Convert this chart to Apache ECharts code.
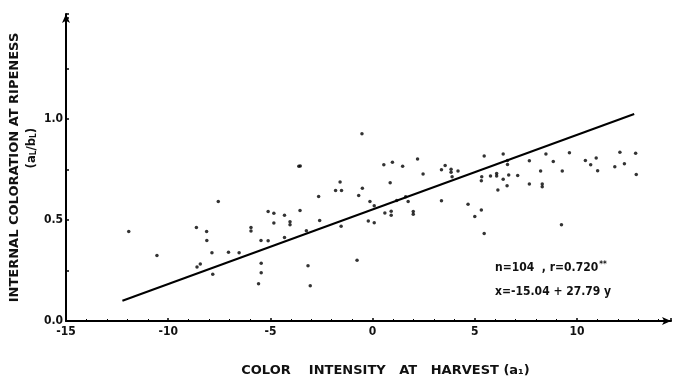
<!DOCTYPE html>
<html>
<head>
<meta charset="utf-8">
<script src="https://cdn.jsdelivr.net/npm/echarts@6/dist/echarts.min.js"></script>
<style>
html,body{margin:0;padding:0;background:#fff;}
#c{width:673px;height:382px;}
</style>
</head>
<body>
<div id="c"></div>
<script>
// Color intensity at harvest (a1)
const xVals = [-11.93,-10.55,-8.62,-8.12,-8.11,-7.86,-8.59,-8.43,-7.82,-7.55,
  -7.05,-6.53,-5.95,-5.95,-5.46,-5.45,-5.45,-5.58,-3.61,-3.54,
  -5.11,-5.11,-4.83,-4.83,-4.31,-4.04,-4.04,-4.31,-3.55,-3.24,
  -3.16,-3.05,-0.52,0.55,0.97,1.47,2.20,2.47,3.37,3.37,
  -1.59,-1.81,-1.52,-2.64,-0.50,-0.68,-0.13,0.08,-2.59,-1.54,
  -0.21,0.08,0.60,0.91,0.91,1.18,1.62,1.74,1.99,1.99,
  0.86,-0.76,3.55,3.84,3.84,3.89,4.18,4.67,5.00,5.32,
  5.46,5.46,6.39,6.60,6.60,7.67,7.67,5.32,5.34,5.77,
  6.07,6.07,6.39,6.66,7.10,6.13,6.58,8.48,9.63,12.10,
  12.87,8.22,8.30,8.30,8.84,9.28,10.41,10.67,10.94,11.01,
  11.85,12.32,12.90,9.24];
// Internal coloration at ripeness (aL/bL)
const yVals = [0.443,0.324,0.463,0.443,0.398,0.338,0.267,0.282,0.232,0.592,
  0.341,0.338,0.463,0.445,0.398,0.286,0.239,0.184,0.766,0.768,
  0.397,0.542,0.534,0.485,0.524,0.492,0.476,0.413,0.547,0.447,
  0.273,0.175,0.927,0.773,0.786,0.766,0.802,0.728,0.749,0.595,
  0.688,0.646,0.646,0.617,0.657,0.621,0.592,0.571,0.497,0.469,
  0.495,0.487,0.535,0.544,0.523,0.596,0.615,0.592,0.542,0.528,
  0.684,0.301,0.770,0.751,0.736,0.714,0.743,0.578,0.518,0.550,
  0.433,0.817,0.827,0.795,0.775,0.793,0.678,0.694,0.714,0.718,
  0.730,0.718,0.702,0.723,0.720,0.649,0.670,0.827,0.833,0.835,
  0.830,0.743,0.678,0.665,0.790,0.743,0.795,0.773,0.807,0.744,
  0.764,0.778,0.725,0.477];
// Regression line endpoints
const regX = [-12.24, 12.8];
const regY = [0.10, 1.025];
// Tick labels
const xTicks = [-15, -10, -5, 0, 5, 10];
const yTicks = [0, 0.5, 1.0];

const FONT = "'DejaVu Sans Condensed','Liberation Sans Narrow','DejaVu Sans',sans-serif";
const WIDE = "'DejaVu Sans','Liberation Sans',sans-serif";

const scatterData = xVals.map((x, i) => [x, yVals[i]]);
const lineData = regX.map((x, i) => [x, regY[i]]);

const chart = echarts.init(document.getElementById('c'), null, {renderer: 'canvas'});
chart.setOption({
  animation: false,
  backgroundColor: '#fff',
  grid: {left: 62, right: 2, top: 14, bottom: 55, containLabel: false},
  xAxis: {
    type: 'value', min: -15, max: 14.6, interval: 5,
    name: 'COLOR    INTENSITY   AT   HARVEST (a\u2081)',
    nameLocation: 'middle', nameGap: 43,
    nameTextStyle: {fontFamily: WIDE, fontWeight: 'bold', fontSize: 13, color: '#111', padding: [0, 0, 0, 34]},
    axisLine: {show: true, onZero: false, symbol: ['none', 'arrow'], symbolSize: [6, 9], lineStyle: {color: '#000', width: 2}},
    axisTick: {show: true, inside: true, length: 3, lineStyle: {color: '#000', width: 1.5}},
    minorTick: {show: true, splitNumber: 5, length: 2, lineStyle: {color: '#000', width: 1}},
    axisLabel: {
      showMaxLabel: false, margin: 5,
      fontFamily: FONT, fontWeight: 'bold', fontSize: 12, color: '#111',
      formatter: v => xTicks.indexOf(v) >= 0 ? String(v) : ''
    },
    splitLine: {show: false}
  },
  yAxis: {
    type: 'value', min: 0, max: 1.52, interval: 0.5,
    name: 'INTERNAL COLORATION AT RIPENESS',
    nameLocation: 'middle', nameGap: 45, nameRotate: 90,
    nameTextStyle: {fontFamily: WIDE, fontWeight: 'bold', fontSize: 13, color: '#111'},
    axisLine: {show: true, onZero: false, symbol: ['none', 'arrow'], symbolSize: [6, 9], lineStyle: {color: '#000', width: 2}},
    axisTick: {show: true, inside: true, length: 3, lineStyle: {color: '#000', width: 1.5}},
    minorTick: {show: true, splitNumber: 2, length: 3, lineStyle: {color: '#000', width: 1.5}},
    axisLabel: {
      showMaxLabel: false, margin: 3,
      fontFamily: FONT, fontWeight: 'bold', fontSize: 12, color: '#111',
      formatter: v => yTicks.some(t => Math.abs(t - v) < 1e-9) ? v.toFixed(1) : ''
    },
    splitLine: {show: false}
  },
  graphic: [
    {
      type: 'text', left: 25, top: 128,
      rotation: Math.PI / 2,
      style: {
        text: '(a{s|L}/b{s|L})',
        fontFamily: FONT, fontWeight: 'bold', fontSize: 13, fill: '#111',
        rich: {s: {fontSize: 8, fontFamily: FONT, fontWeight: 'bold', verticalAlign: 'bottom'}}
      }
    },
    {
      type: 'text', left: 495, top: 261,
      style: {
        text: 'n=104  , r=0.720{sup|**}',
        fontFamily: FONT, fontWeight: 'bold', fontSize: 12, fill: '#111',
        rich: {sup: {fontSize: 8, fontFamily: FONT, fontWeight: 'bold', verticalAlign: 'top', padding: [0, 0, 6, 1]}}
      }
    },
    {
      type: 'text', left: 495, top: 286,
      style: {
        text: 'x=-15.04 + 27.79 y',
        fontFamily: FONT, fontWeight: 'bold', fontSize: 12, fill: '#111'
      }
    }
  ],
  series: [
    {
      type: 'scatter', data: scatterData,
      symbol: 'circle', symbolSize: 3.5,
      itemStyle: {color: '#000'}
    },
    {
      type: 'line', data: lineData,
      showSymbol: false, symbol: 'none',
      lineStyle: {color: '#000', width: 2},
      z: 3
    }
  ]
});
</script>
</body>
</html>
